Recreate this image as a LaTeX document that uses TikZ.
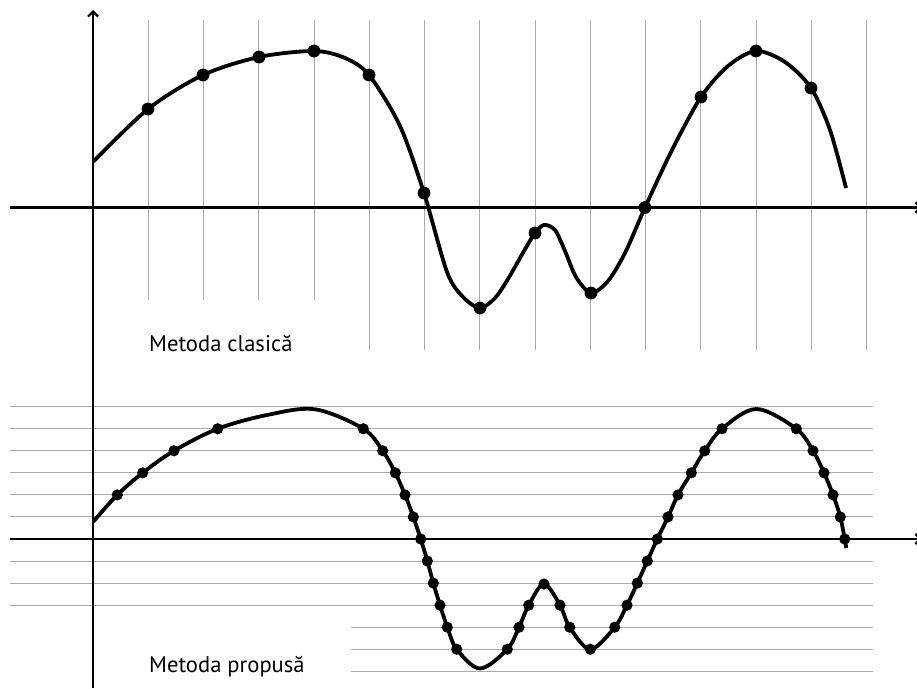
\documentclass[tikz,border=0pt]{standalone}
\usepackage{fontspec}
\setmainfont{PT Sans}
\usetikzlibrary{arrows.meta}
\tikzset{
  axis/.style={line width=2.2pt, black},
  gridv/.style={line width=1pt, black!33},
  curve/.style={line width=3.8pt, black, line join=round},
  dotbig/.style={fill=black},
  lbl/.style={font=\fontsize{22.6}{26}\selectfont, inner sep=0pt, anchor=base west}
}
\begin{document}
\begin{tikzpicture}[x=1pt,y=-1pt]
\useasboundingbox (0,0) rectangle (917,688);
% ---------- top: classical method ----------
\foreach \i in {1,...,4} \draw[gridv] ({93+55.25*\i},20) -- ({93+55.25*\i},300);
\foreach \i in {5,...,14} \draw[gridv] ({93+55.25*\i},20) -- ({93+55.25*\i},350);
% ---------- bottom: proposed method ----------
\foreach \j in {1,...,6} \draw[gridv] (10,{539-22.05*\j}) -- (873,{539-22.05*\j});
\foreach \j in {1,...,3} \draw[gridv] (10,{539+22.05*\j}) -- (873,{539+22.05*\j});
\foreach \j in {4,...,6} \draw[gridv] (351,{539+22.05*\j}) -- (873,{539+22.05*\j});
% axes
\coordinate (yb) at (93,688);
\coordinate (yt) at (93,10);
\coordinate (x1a) at (10,207.5);
\coordinate (x1b) at (922,207.5);
\coordinate (x2a) at (10,539);
\coordinate (x2b) at (922,539);
\draw[axis,-{Straight Barb[length=5pt,width=10pt]}] (yb) -- (yt);
\draw[axis,-{Straight Barb[length=5pt,width=10pt]}] (x1a) -- (x1b);
\draw[axis,-{Straight Barb[length=5pt,width=10pt]}] (x2a) -- (x2b);
% top curve
\draw[curve] plot[smooth, tension=0.5] coordinates {
 (93,162) (148,109) (203,75) (259,57) (314,51) (345,58) (369,75) (400,126) (424,193)
 (447,272) (463,297) (480,308) (495,298) (508,279) (524,251) (535,233) (544,225) (555,230)
 (565,251) (576,277) (591,293) (608,281) (625,253) (645,207.5) (672,150) (701,97) (728,66)
 (756,51) (785,62) (811,88) (830,130) (846,188)};
\foreach \p in {(148,109),(203,75),(259,57),(314,51),(369,75),(424,193),(480,308),(535,233),(591,293),(645,207.5),(701,97),(756,51),(811,88)}
  \fill[dotbig] \p circle (6.4);
% bottom curve
\draw[curve] plot[smooth, tension=0.55] coordinates {
 (93,522) (117.3,494.9) (142.7,472.85) (174,450.8) (217.7,428.75) (267,415) (315,409.3)
 (363.3,428.75) (382.7,450.8) (395.3,472.85) (405,494.9) (413.3,516.95) (420.7,539) (427.3,561)
 (433.3,583.1) (440,605.15) (447.3,627.2) (456.7,649.25) (480,668.5) (507.3,649.25) (519,627.2)
 (528.7,605.15) (544,584) (560,605.15) (569.7,627.2) (590.3,649.25) (614.7,627.2) (627,605.15)
 (637.3,583.1) (647.3,561) (657.3,539) (668,516.95) (678,494.9) (691.3,472.85) (704.7,450.8)
 (722,428.75) (756.3,409) (796.3,428.75) (813,450.8) (824,472.85) (833,494.9) (840.3,516.95)
 (844.7,539) (846.3,548)};
\foreach \p in {(117.3,494.9),(142.7,472.85),(174,450.8),(217.7,428.75),
 (363.3,428.75),(382.7,450.8),(395.3,472.85),(405,494.9),(413.3,516.95),(420.7,539),(427.3,561),
 (433.3,583.1),(440,605.15),(447.3,627.2),(456.7,649.25),(507.3,649.25),(519,627.2),
 (528.7,605.15),(544,584),(560,605.15),(569.7,627.2),(590.3,649.25),(614.7,627.2),(627,605.15),
 (637.3,583.1),(647.3,561),(657.3,539),(668,516.95),(678,494.9),(691.3,472.85),(704.7,450.8),
 (722,428.75),(796.3,428.75),(813,450.8),(824,472.85),(833,494.9),(840.3,516.95),(844.7,539)}
  \fill[dotbig] \p circle (5.6);
% labels
\node[lbl] (lc) at (149,351) {Metoda clasică};
\node[lbl] (lp) at (149,672) {Metoda propusă};
\end{tikzpicture}
\end{document}
